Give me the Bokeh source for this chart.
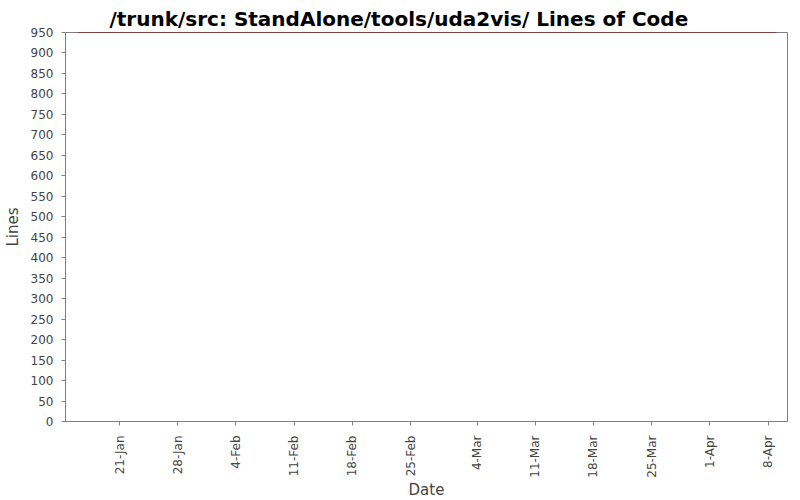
import math
from datetime import datetime
from bokeh.plotting import figure
from bokeh.models import Range1d, FixedTicker, DatetimeTickFormatter
from bokeh.embed import file_html
from bokeh.resources import INLINE

# Data
dates = ["2008-01-16", "2008-02-15", "2008-03-15", "2008-04-09"]
lines_of_code = [950, 950, 950, 950]
tick_dates = ["2008-01-21", "2008-01-28", "2008-02-04", "2008-02-11", "2008-02-18",
              "2008-02-25", "2008-03-04", "2008-03-11", "2008-03-18", "2008-03-25",
              "2008-04-01", "2008-04-08"]
y_ticks = list(range(0, 951, 50))

def ms(s):
    return (datetime.strptime(s, "%Y-%m-%d") - datetime(1970, 1, 1)).total_seconds() * 1000

xs = [datetime.strptime(d, "%Y-%m-%d") for d in dates]

p = figure(frame_width=722, frame_height=389, x_axis_type="datetime",
           output_backend="svg", toolbar_location=None,
           title="/trunk/src: StandAlone/tools/uda2vis/ Lines of Code",
           min_border_left=58, min_border_right=4, min_border_top=32, min_border_bottom=62)

p.x_range = Range1d(ms("2008-01-14") + 12 * 3600e3, ms("2008-04-10") + 8 * 3600e3)
p.y_range = Range1d(0, 950)

p.line(xs, lines_of_code, line_color="#800000", line_width=1.2)

p.title.align = "left"
p.title.offset = 44
p.title.text_font = "DejaVu Sans"
p.title.text_font_size = "20px"
p.title.text_font_style = "bold"
p.title.text_color = "black"
p.title.standoff = 4

p.xgrid.visible = False
p.ygrid.visible = False
p.outline_line_color = "#808080"
p.outline_line_width = 1

p.xaxis.ticker = FixedTicker(ticks=[ms(t) for t in tick_dates])
p.xaxis.formatter = DatetimeTickFormatter(days="%-d-%b", months="%-d-%b", hours="%-d-%b")
p.xaxis.major_label_orientation = math.pi / 2
p.yaxis.ticker = FixedTicker(ticks=y_ticks)

for ax in (p.xaxis, p.yaxis):
    ax.axis_line_color = "#808080"
    ax.major_tick_line_color = "#808080"
    ax.minor_tick_line_color = None
    ax.major_tick_in = 0
    ax.major_tick_out = 4
    ax.major_label_text_font = "DejaVu Sans"
    ax.major_label_text_font_size = "12px"
    ax.major_label_text_color = "#444444"
    ax.axis_label_text_font = "DejaVu Sans"
    ax.axis_label_text_font_size = "15px"
    ax.axis_label_text_font_style = "normal"
    ax.axis_label_text_color = "#444444"

p.xaxis.axis_label = "Date"
p.yaxis.axis_label = "Lines"
p.xaxis.major_label_standoff = 10
p.xaxis.axis_label_standoff = 0
p.yaxis.major_label_standoff = 8
p.yaxis.axis_label_standoff = 6

open("out.html", "w").write(file_html(p, INLINE))
